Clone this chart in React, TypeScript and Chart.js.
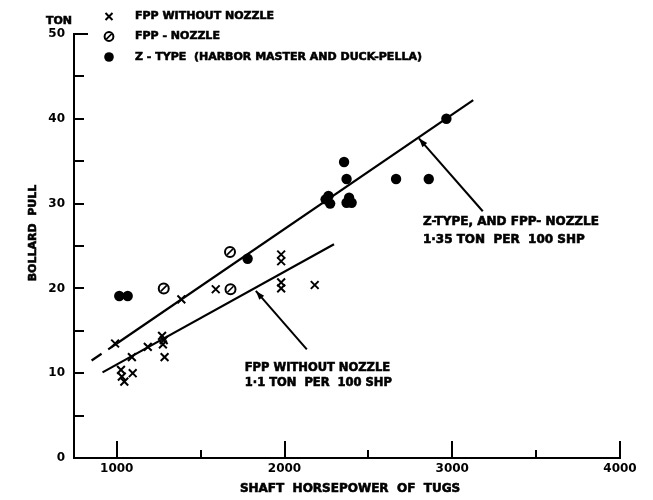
import React, { useEffect, useRef } from "react";
import { Chart, registerables } from "chart.js";

Chart.register(...registerables);

const FONT = '"DejaVu Sans", "Liberation Sans", sans-serif';

// ---- axis ticks ----
const X_TICKS = [1000, 1500, 2000, 2500, 3000, 3500, 4000];
const X_LABELED = [1000, 2000, 3000, 4000];
const Y_TICKS = [0, 5, 10, 15, 20, 25, 30, 35, 40, 45, 50];
const Y_LABELED = [0, 10, 20, 30, 40, 50];

// ---- series: FPP without nozzle (x) ----
const fppNoNozzleX = [990, 1025, 1030, 1045, 1090, 1095, 1185, 1270, 1275, 1280, 1285, 1385, 1590, 1980, 1980, 1980, 1980, 2180];
const fppNoNozzleY = [13.5, 10.4, 9.6, 9.0, 11.9, 10.0, 13.1, 14.4, 13.4, 13.9, 11.9, 18.7, 19.9, 24.0, 23.2, 20.7, 20.0, 20.4];

// ---- series: FPP - nozzle ----
const fppNozzleX = [1280, 1675, 1678];
const fppNozzleY = [20.0, 24.3, 19.9];

// ---- series: Z-type ----
const zTypeX = [1015, 1065, 1780, 2245, 2262, 2272, 2355, 2370, 2370, 2385, 2400, 2665, 2860, 2965];
const zTypeY = [19.1, 19.1, 23.5, 30.5, 30.9, 30.0, 34.9, 32.9, 30.1, 30.7, 30.1, 32.9, 32.9, 40.0];

// ---- fitted lines ----
const zFitX = [1000, 3125];
const zFitY = [13.5, 42.2];
const zFitDashX = [850, 1000];
const zFitDashY = [11.5, 13.5];
const fppFitX = [915, 2295];
const fppFitY = [10.1, 25.2];

// ---- labels ----
const LEGEND_LABELS = ["FPP WITHOUT NOZZLE", "FPP - NOZZLE", "Z - TYPE  (HARBOR MASTER AND DUCK-PELLA)"];
const Z_NOTE = ["Z-TYPE, AND FPP- NOZZLE", "1·35 TON  PER  100 SHP"];
const FPP_NOTE = ["FPP WITHOUT NOZZLE", "1·1 TON  PER  100 SHP"];
const X_TITLE = "SHAFT  HORSEPOWER  OF  TUGS";
const Y_TITLE = "BOLLARD  PULL";
const Y_UNIT = "TON";

const zip = (xs: number[], ys: number[]) => xs.map((x, i) => ({ x, y: ys[i] }));

function drawSlash(ctx: CanvasRenderingContext2D, cx: number, cy: number, r: number) {
  const d = r * 0.6;
  ctx.save();
  ctx.strokeStyle = "#000";
  ctx.lineWidth = 1.6;
  ctx.beginPath();
  ctx.moveTo(cx - d, cy + d);
  ctx.lineTo(cx + d, cy - d);
  ctx.stroke();
  ctx.restore();
}

function drawSlashCircle(ctx: CanvasRenderingContext2D, cx: number, cy: number, r: number) {
  ctx.save();
  ctx.beginPath();
  ctx.arc(cx, cy, r, 0, Math.PI * 2);
  ctx.fillStyle = "#fff";
  ctx.fill();
  ctx.lineWidth = 2;
  ctx.strokeStyle = "#000";
  ctx.stroke();
  ctx.restore();
  drawSlash(ctx, cx, cy, r);
}

function drawX(ctx: CanvasRenderingContext2D, cx: number, cy: number, h: number) {
  ctx.save();
  ctx.strokeStyle = "#000";
  ctx.lineWidth = 2;
  ctx.beginPath();
  ctx.moveTo(cx - h, cy - h);
  ctx.lineTo(cx + h, cy + h);
  ctx.moveTo(cx + h, cy - h);
  ctx.lineTo(cx - h, cy + h);
  ctx.stroke();
  ctx.restore();
}

function heavyText(ctx: CanvasRenderingContext2D, t: string, x: number, y: number) {
  ctx.lineWidth = 0.6;
  ctx.strokeText(t, x, y);
  ctx.fillText(t, x, y);
}

function arrow(ctx: CanvasRenderingContext2D, x1: number, y1: number, x2: number, y2: number) {
  ctx.save();
  ctx.strokeStyle = "#000";
  ctx.fillStyle = "#000";
  ctx.lineWidth = 2;
  ctx.beginPath();
  ctx.moveTo(x1, y1);
  ctx.lineTo(x2, y2);
  ctx.stroke();
  const ang = Math.atan2(y2 - y1, x2 - x1);
  const L = 9, W = 3.2;
  ctx.beginPath();
  ctx.moveTo(x2, y2);
  ctx.lineTo(x2 - L * Math.cos(ang) + W * Math.sin(ang), y2 - L * Math.sin(ang) - W * Math.cos(ang));
  ctx.lineTo(x2 - L * Math.cos(ang) - W * Math.sin(ang), y2 - L * Math.sin(ang) + W * Math.cos(ang));
  ctx.closePath();
  ctx.fill();
  ctx.restore();
}

const decorPlugin = {
  id: "decor",
  afterDatasetsDraw(chart: any) {
    // slash inside every FPP-nozzle circle
    const meta = chart.getDatasetMeta(1);
    meta.data.forEach((pt: any) => drawSlash(chart.ctx, pt.x, pt.y, 5));
  },
  afterDraw(chart: any) {
    const { ctx, chartArea: a, scales } = chart;
    const x = scales.x, y = scales.y;
    ctx.save();
    ctx.strokeStyle = "#000";
    ctx.fillStyle = "#000";
    ctx.lineWidth = 2;
    // inward ticks
    X_TICKS.forEach((v) => {
      const px = Math.round(x.getPixelForValue(v));
      const len = v % 1000 === 0 ? 17 : 8;
      ctx.beginPath();
      ctx.moveTo(px, a.bottom);
      ctx.lineTo(px, a.bottom - len);
      ctx.stroke();
    });
    Y_TICKS.forEach((v) => {
      if (v === 0) return;
      const py = Math.round(y.getPixelForValue(v));
      const len = v === 50 ? 14 : 10;
      ctx.beginPath();
      ctx.moveTo(a.left, py);
      ctx.lineTo(a.left + len, py);
      ctx.stroke();
    });

    // unit label
    ctx.font = `bold 11px ${FONT}`;
    ctx.textAlign = "right";
    ctx.textBaseline = "middle";
    heavyText(ctx, Y_UNIT, a.left - 2, a.top - 13);

    // axis titles
    ctx.font = `bold 12px ${FONT}`;
    ctx.textAlign = "center";
    heavyText(ctx, X_TITLE, (a.left + a.right) / 2 + 3, 489);
    ctx.save();
    ctx.translate(33, 233);
    ctx.rotate(-Math.PI / 2);
    ctx.font = `bold 11px ${FONT}`;
    heavyText(ctx, Y_TITLE, 0, 0);
    ctx.restore();

    // legend
    const lx = 109, tx = 135;
    const rows = [16.5, 36.5, 57];
    drawX(ctx, lx, rows[0], 3.5);
    drawSlashCircle(ctx, lx, rows[1], 4.4);
    ctx.beginPath();
    ctx.arc(lx, rows[2], 4.8, 0, Math.PI * 2);
    ctx.fill();
    ctx.font = `bold 11px ${FONT}`;
    ctx.textAlign = "left";
    ctx.textBaseline = "middle";
    LEGEND_LABELS.forEach((t, i) => heavyText(ctx, t, tx, rows[i]));

    // annotations
    arrow(ctx, x.getPixelForValue(3182), y.getPixelForValue(29.1), x.getPixelForValue(2801), y.getPixelForValue(37.7));
    arrow(ctx, x.getPixelForValue(2133), y.getPixelForValue(12.8), x.getPixelForValue(1829), y.getPixelForValue(19.7));

    const zx = x.getPixelForValue(2825), zy = y.getPixelForValue(27.9);
    ctx.font = `bold 12px ${FONT}`;
    heavyText(ctx, Z_NOTE[0], zx, zy);
    heavyText(ctx, Z_NOTE[1], zx, zy + 18);

    const fx = x.getPixelForValue(1763), fy = y.getPixelForValue(10.6);
    ctx.font = `bold 11.5px ${FONT}`;
    heavyText(ctx, FPP_NOTE[0], fx, fy);
    heavyText(ctx, FPP_NOTE[1], fx, fy + 15);

    ctx.restore();
  },
};

export default function App() {
  const ref = useRef<HTMLCanvasElement>(null);
  useEffect(() => {
    const canvas = ref.current!;
    const lineBase = {
      type: "line" as const,
      borderColor: "#000",
      borderWidth: 2.2,
      pointRadius: 0,
      tension: 0,
      fill: false,
      showLine: true,
    };
    const chart = new Chart(canvas, {
      type: "scatter",
      data: {
        datasets: [
          {
            label: LEGEND_LABELS[0],
            data: zip(fppNoNozzleX, fppNoNozzleY),
            pointStyle: "crossRot",
            pointRadius: 5.5,
            pointBorderWidth: 2,
            pointBorderColor: "#000",
            pointBackgroundColor: "#000",
          },
          {
            label: LEGEND_LABELS[1],
            data: zip(fppNozzleX, fppNozzleY),
            pointStyle: "circle",
            pointRadius: 5,
            pointBorderWidth: 2,
            pointBorderColor: "#000",
            pointBackgroundColor: "#fff",
          },
          {
            label: LEGEND_LABELS[2],
            data: zip(zTypeX, zTypeY),
            pointStyle: "circle",
            pointRadius: 5.2,
            pointBorderWidth: 0,
            pointBackgroundColor: "#000",
            pointBorderColor: "#000",
          },
          { ...lineBase, label: "z-fit", data: zip(zFitX, zFitY) } as any,
          { ...lineBase, label: "z-fit-dash", data: zip(zFitDashX, zFitDashY), borderDash: [12, 8] } as any,
          { ...lineBase, label: "fpp-fit", data: zip(fppFitX, fppFitY) } as any,
        ],
      },
      options: {
        animation: false,
        responsive: false,
        events: [],
        layout: { padding: { left: 0, right: 33, top: 34, bottom: 0 } },
        plugins: { legend: { display: false }, tooltip: { enabled: false }, title: { display: false } },
        scales: {
          x: {
            type: "linear",
            min: 745,
            max: 4000,
            afterBuildTicks: (s: any) => {
              s.ticks = X_TICKS.map((v) => ({ value: v }));
            },
            afterFit: (s: any) => {
              s.height = 42;
            },
            grid: { display: true, drawOnChartArea: false, drawTicks: false },
            border: { display: true, color: "#000", width: 2 },
            ticks: {
              autoSkip: false,
              maxRotation: 0,
              padding: 4,
              color: "#000",
              font: { family: FONT, size: 12, weight: "bold" },
              callback: (v: any) => (X_LABELED.includes(Number(v)) ? String(v) : ""),
            },
          },
          y: {
            type: "linear",
            min: 0,
            max: 50,
            afterBuildTicks: (s: any) => {
              s.ticks = Y_TICKS.map((v) => ({ value: v }));
            },
            afterFit: (s: any) => {
              s.width = 74;
            },
            grid: { display: true, drawOnChartArea: false, drawTicks: false },
            border: { display: true, color: "#000", width: 2 },
            ticks: {
              autoSkip: false,
              padding: 9,
              color: "#000",
              font: { family: FONT, size: 12, weight: "bold" },
              callback: (v: any) => (Y_LABELED.includes(Number(v)) ? String(v) : ""),
            },
          },
        },
      },
      plugins: [decorPlugin],
    });
    return () => chart.destroy();
  }, []);
  return (
    <div style={{ position: "fixed", left: 0, top: 0, width: 653, height: 500, background: "#fff" }}>
      <canvas ref={ref} width={653} height={500} style={{ display: "block" }} />
    </div>
  );
}
